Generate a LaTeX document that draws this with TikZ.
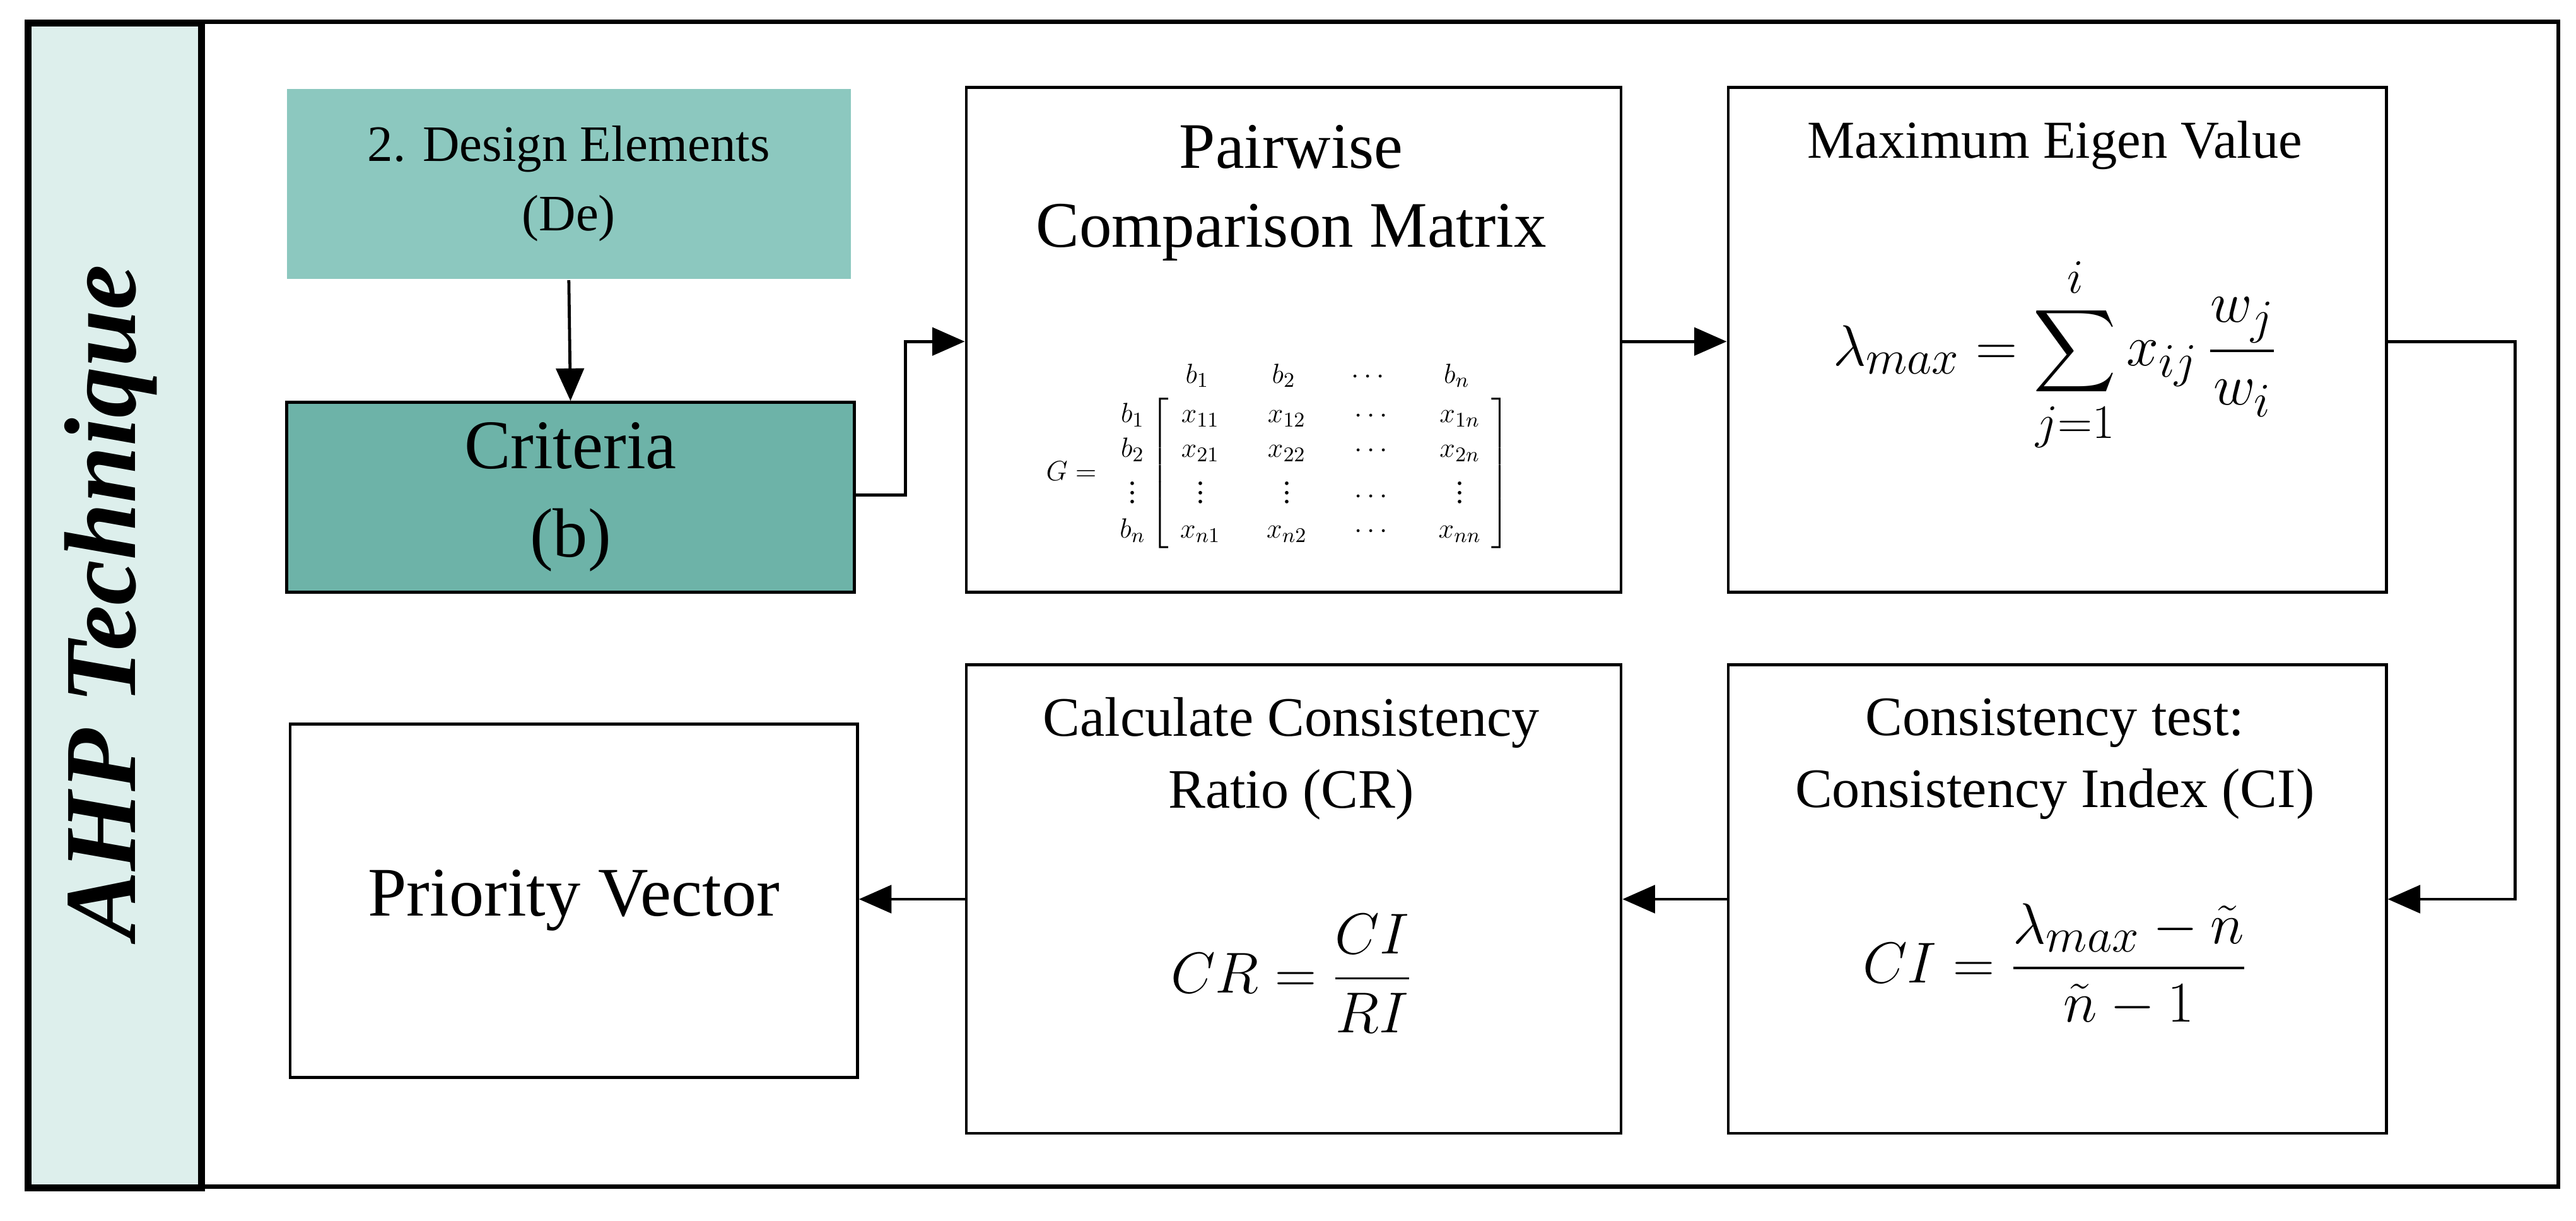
\documentclass[tikz,border=0pt]{standalone}
\usepackage{amsmath}
\usepackage{fontspec}
\setmainfont{Liberation Serif}
\usetikzlibrary{arrows.meta}
\definecolor{bandfill}{HTML}{DDEFEC}
\definecolor{defill}{HTML}{8CC8BF}
\definecolor{critfill}{HTML}{6DB3A8}
\tikzset{box/.style={draw,line width=1.3pt,align=center,inner sep=0pt,anchor=north west},
  link/.style={line width=1.3pt,-{Triangle[length=14pt,width=12pt]}}}
\newcommand{\mc}[1]{\makebox[2.1em]{$#1$}}

\begin{document}
\begin{tikzpicture}[x=0.025cm,y=-0.025cm]
      \useasboundingbox (0,0) rectangle (1562,740);
      \node[box,line width=1.8pt,minimum width=1535*0.025cm,minimum height=706*0.025cm] (frame) at (15,12) {};
      \node[box,line width=3pt,fill=bandfill,minimum width=105*0.025cm,minimum height=706*0.025cm] (band) at (15,12) {};
      \node[rotate=90,font=\fontsize{44}{50}\selectfont\bfseries\itshape] (title) at (67,365) {AHP Technique};
      \node[box,draw=none,fill=defill,minimum width=342*0.025cm,minimum height=115*0.025cm,font=\fontsize{22}{30}\selectfont] (de) at (173,53) {2. Design Elements\\(De)};
      \node[box,fill=critfill,minimum width=344*0.025cm,minimum height=115*0.025cm,font=\fontsize{30}{38}\selectfont] (crit) at (173,243) {Criteria\\(b)};
      \node[box,minimum width=397*0.025cm,minimum height=306*0.025cm] (pair) at (585,52) {};
      \node[font=\fontsize{28}{34}\selectfont,align=center] (pairtxt) at (783,117) {Pairwise\\Comparison Matrix};
      \node[font=\fontsize{13}{15}\selectfont,inner sep=0pt] (mat) at (775,275) {$\begin{array}{@{}r@{\,}l@{}}
        & \;\;\begin{array}{@{}cccc@{}}\mc{b_1}&\mc{b_2}&\mc{\cdots}&\mc{b_n}\end{array}\\[2pt]
        G=\;\;\begin{array}{@{}c@{}}b_1\\b_2\\\vdots\\b_n\end{array} &
        \left[\begin{array}{@{}cccc@{}}\mc{x_{11}}&\mc{x_{12}}&\mc{\cdots}&\mc{x_{1n}}\\
        \mc{x_{21}}&\mc{x_{22}}&\mc{\cdots}&\mc{x_{2n}}\\
        \mc{\vdots}&\mc{\vdots}&\mc{\cdots}&\mc{\vdots}\\
        \mc{x_{n1}}&\mc{x_{n2}}&\mc{\cdots}&\mc{x_{nn}}\end{array}\right]\end{array}$};
      \node[box,minimum width=399*0.025cm,minimum height=306*0.025cm] (eig) at (1047,52) {};
      \node[font=\fontsize{23}{28}\selectfont] (eigtxt) at (1246,88) {Maximum Eigen Value};
      \node[font=\fontsize{28}{32}\selectfont] (eigeq) at (1246,215) {$\displaystyle\lambda_{max}=\sum_{j=1}^{i}x_{ij}\,\frac{w_j}{w_i}$};
      \node[box,minimum width=399*0.025cm,minimum height=284*0.025cm] (ci) at (1047,402) {};
      \node[font=\fontsize{24}{31}\selectfont,align=center] (citxt) at (1246,460) {Consistency test:\\Consistency Index (CI)};
      \node[font=\fontsize{30}{34}\selectfont] (cieq) at (1246,585) {$\displaystyle CI=\frac{\lambda_{max}-\tilde{n}}{\tilde{n}-1}$};
      \node[box,minimum width=397*0.025cm,minimum height=284*0.025cm] (cr) at (585,402) {};
      \node[font=\fontsize{24}{31}\selectfont,align=center] (crtxt) at (783,460) {Calculate Consistency\\Ratio (CR)};
      \node[font=\fontsize{30}{34}\selectfont] (creq) at (783,590) {$\displaystyle CR=\frac{CI}{RI}$};
      \node[box,minimum width=344*0.025cm,minimum height=214*0.025cm,font=\fontsize{30}{36}\selectfont] (prio) at (175,438) {Priority Vector};

      \coordinate (k1) at (549,300);
      \coordinate (k2) at (549,207);
      \coordinate (k3) at (1525,207);
      \coordinate (k4) at (1525,545);
\draw[link] (de.south) -- (crit.north);
\draw[link] (crit.east |- k1) -- (k1) -- (k2) -- (pair.west |- k2);
\draw[link] (pair.east |- k2) -- (eig.west |- k2);
\draw[link] (eig.east |- k3) -- (k3) -- (k4) -- (ci.east |- k4);
\draw[link] (ci.west |- k4) -- (cr.east |- k4);
\draw[link] (cr.west |- k4) -- (prio.east |- k4);
\end{tikzpicture}
\end{document}
